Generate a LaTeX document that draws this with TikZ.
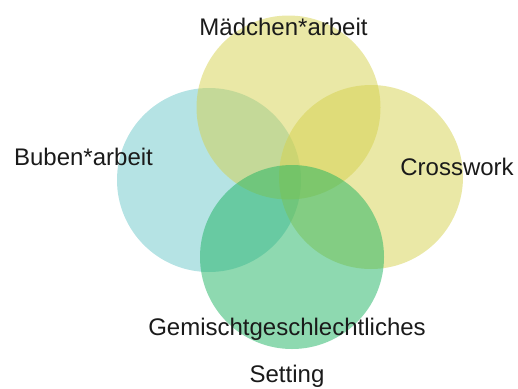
\documentclass[tikz,border=0pt]{standalone}
\usepackage{fontspec}
\setmainfont{Liberation Sans}
\usepackage{color}
\usepackage{tikz}
\usetikzlibrary{positioning, shapes}
\definecolor{buben}{RGB}{107,199,201}
\definecolor{maedchen}{RGB}{213,209,77}
\definecolor{gemischt}{RGB}{29,179,97}
\definecolor{labeltext}{RGB}{26,26,26}
\tikzset{myfillcolor/.style = {circle,minimum size=184pt,inner sep=0pt,fill=#1,fill opacity=0.5}}
\tikzset{mylabel/.style = {anchor=base,text=labeltext,font=\fontsize{24}{28}\selectfont}}

\begin{document}
\begin{tikzpicture}[x=1pt,y=-1pt]
\useasboundingbox (0,0) rectangle (518,388);
\node (b)[myfillcolor=buben] at (209,180) {};
\node (m)[myfillcolor=maedchen] at (288.5,107.5) {};
\node (c)[myfillcolor=maedchen] at (371,177) {};
\node (g)[myfillcolor=gemischt] at (292,257) {};
%labels
\node (mt)[mylabel] at (283.5,35) {Mädchen*arbeit};
\node (bt)[mylabel] at (83.5,165) {Buben*arbeit};
\node (ct)[mylabel] at (457,175) {Crosswork};
\node (gt)[mylabel] at (287,335) {Gemischtgeschlechtliches};
\node (st)[mylabel] at (287,382) {Setting};
\end{tikzpicture}
\end{document}
